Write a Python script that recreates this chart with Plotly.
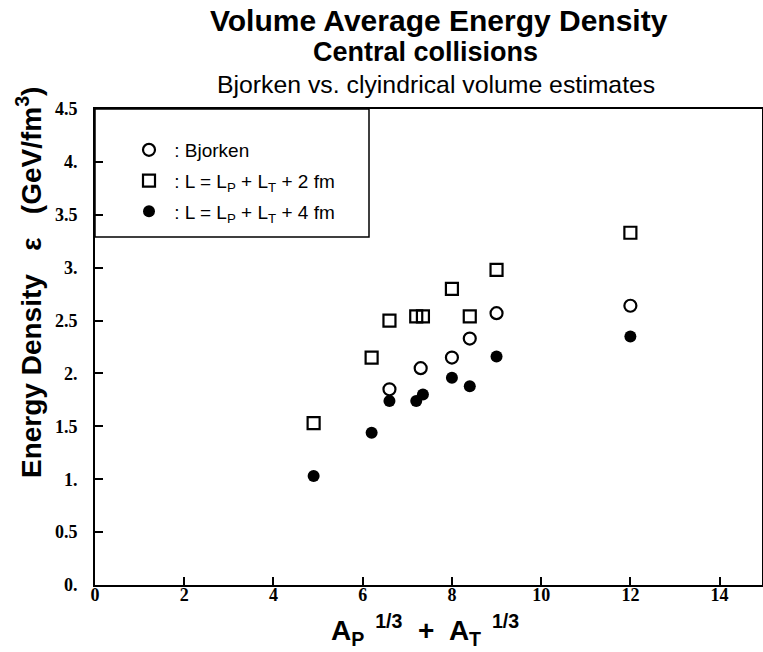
import plotly.graph_objects as go

# ---- data ----
bjorken_x = [6.6, 7.3, 8.0, 8.4, 9.0, 12.0]
bjorken_y = [1.85, 2.05, 2.15, 2.33, 2.57, 2.64]

cyl2_x = [4.9, 6.2, 6.6, 7.2, 7.35, 8.0, 8.4, 9.0, 12.0]
cyl2_y = [1.53, 2.15, 2.50, 2.54, 2.54, 2.80, 2.54, 2.98, 3.33]

cyl4_x = [4.9, 6.2, 6.6, 7.2, 7.35, 8.0, 8.4, 9.0, 12.0]
cyl4_y = [1.03, 1.44, 1.74, 1.74, 1.80, 1.96, 1.88, 2.16, 2.35]

x_ticks = [0, 2, 4, 6, 8, 10, 12, 14]
y_ticks = [0, 0.5, 1, 1.5, 2, 2.5, 3, 3.5, 4, 4.5]
y_tick_text = ["0.", "0.5", "1.", "1.5", "2.", "2.5", "3.", "3.5", "4.", "4.5"]

names = [" : Bjorken",
         " : L = L<sub>P</sub> + L<sub>T</sub> + 2 fm",
         " : L = L<sub>P</sub> + L<sub>T</sub> + 4 fm"]

W, H = 763, 652
OFF = 0  # page body margin removed by post_script
# desired on-screen plot area
S_LEFT, S_RIGHT, S_TOP, S_BOTTOM = 95, 762, 109, 585
L = S_LEFT - OFF
T = S_TOP - OFF
R = W - (S_RIGHT - OFF)
B = H - (S_BOTTOM - OFF)
PW, PH = W - L - R, H - T - B


def px(sx):
    return (sx - OFF - L) / PW


def py(sy):
    return (H - B - (sy - OFF)) / PH


fig = go.Figure()
fig.add_trace(go.Scatter(x=bjorken_x, y=bjorken_y, mode="markers", name=names[0],
                         legendgroup="a",
                         marker=dict(symbol="circle-open", size=12, color="black",
                                     line=dict(width=2.2, color="black"))))
fig.add_trace(go.Scatter(x=cyl2_x, y=cyl2_y, mode="markers", name=names[1],
                         legendgroup="b",
                         marker=dict(symbol="square-open", size=12, color="black",
                                     line=dict(width=2.2, color="black"))))
fig.add_trace(go.Scatter(x=cyl4_x, y=cyl4_y, mode="markers", name=names[2],
                         legendgroup="c",
                         marker=dict(symbol="circle", size=12, color="black")))

tickfont = dict(family="Liberation Serif", size=18, color="black", weight="bold")

fig.update_layout(
    width=W, height=H,
    margin=dict(l=L, r=R, t=T, b=B, autoexpand=False),
    paper_bgcolor="white", plot_bgcolor="white",
    showlegend=True,
    legend=dict(x=px(129), y=py(131), xanchor="left", yanchor="top",
                bgcolor="rgba(0,0,0,0)", borderwidth=0,
                font=dict(family="Liberation Sans", size=19, color="black"),
                tracegroupgap=3, traceorder="grouped"),
    xaxis=dict(range=[0, 14.95], tickvals=x_ticks, ticktext=[str(v) for v in x_ticks],
               ticks="inside", ticklen=8, tickwidth=1.5, tickcolor="black",
               showline=True, linecolor="black", linewidth=2, mirror=True,
               showgrid=False, zeroline=False, automargin=False,
               ticklabelstandoff=-8, tickfont=tickfont),
    yaxis=dict(range=[0, 4.5], tickvals=y_ticks, ticktext=y_tick_text,
               ticks="inside", ticklen=8, tickwidth=1.5, tickcolor="black",
               showline=True, linecolor="black", linewidth=2, mirror=True,
               showgrid=False, zeroline=False, ticklabelstandoff=12, automargin=False,
               tickfont=tickfont),
    shapes=[dict(type="rect", xref="paper", yref="paper",
                 x0=0, x1=px(369), y0=py(237), y1=1.0,
                 line=dict(color="black", width=1.5))],
    annotations=[
        dict(text="<b>Volume Average Energy Density</b>", xref="paper", yref="paper",
             x=px(439), y=py(20), xanchor="center", yanchor="middle", showarrow=False,
             font=dict(family="Liberation Sans", size=30, color="black")),
        dict(text="<b>Central collisions</b>", xref="paper", yref="paper",
             x=px(425), y=py(52), xanchor="center", yanchor="middle", showarrow=False,
             font=dict(family="Liberation Sans", size=27, color="black")),
        dict(text="Bjorken vs. clyindrical volume estimates", xref="paper", yref="paper",
             x=px(436), y=py(85), xanchor="center", yanchor="middle", showarrow=False,
             font=dict(family="Liberation Sans", size=24.8, color="black")),
        dict(text="<b>Energy Density   ε   (GeV/fm<sup>3</sup>)</b>", xref="paper", yref="paper",
             x=px(29), y=py(283), xanchor="center", yanchor="middle", showarrow=False,
             textangle=-90,
             font=dict(family="Liberation Sans", size=28, color="black")),
        dict(text="<b>A<sub>P</sub><sup>  1/3</sup>  +  A<sub>T</sub><sup>  1/3</sup></b>",
             xref="paper", yref="paper",
             x=px(425), y=py(630), xanchor="center", yanchor="middle", showarrow=False,
             font=dict(family="Liberation Sans", size=28, color="black")),
    ],
)

fig.write_html("out.html",
               config={"displayModeBar": False},
               post_script="document.body.style.margin='0';document.body.style.overflow='hidden';")
